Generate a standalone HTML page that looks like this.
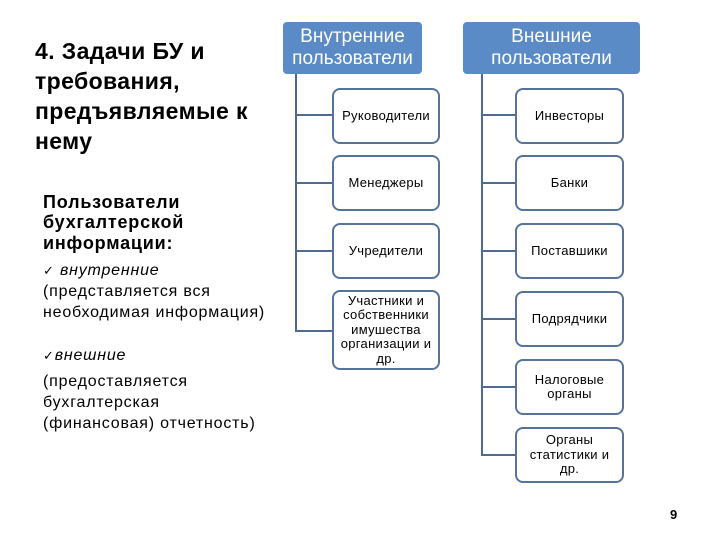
<!DOCTYPE html>
<html><head><meta charset="utf-8"><style>
body{margin:0;width:720px;height:540px;background:#fff;position:relative;overflow:hidden;font-family:"Liberation Sans",sans-serif;color:#000}
.t{position:absolute;white-space:nowrap;line-height:1}
.r{font-size:16px;letter-spacing:0.8px}
.bb{font-size:18px;font-weight:bold;letter-spacing:0.8px}
.h{position:absolute;background:#5b8bc7;color:#fff;border-radius:4px;text-align:center;font-size:19px;line-height:22px;display:flex;align-items:center;justify-content:center}
.b{position:absolute;border:2px solid #56739c;border-radius:8px;background:#fff;box-sizing:border-box;display:flex;align-items:center;justify-content:center;text-align:center;font-size:13px;line-height:14.5px;letter-spacing:0.3px}
.l{position:absolute;background:#4f6b93}
</style></head><body>
<div class="t" style="left:35px;top:40px;font-size:23px;font-weight:bold;letter-spacing:0.4px">4. Задачи БУ и</div>
<div class="t" style="left:35px;top:70px;font-size:23px;font-weight:bold;letter-spacing:0.4px">требования,</div>
<div class="t" style="left:35px;top:100px;font-size:23px;font-weight:bold;letter-spacing:0.4px">предъявляемые к</div>
<div class="t" style="left:35px;top:130px;font-size:23px;font-weight:bold;letter-spacing:0.4px">нему</div>
<div class="t bb" style="left:43px;top:193px">Пользователи</div>
<div class="t bb" style="left:43px;top:213px">бухгалтерской</div>
<div class="t bb" style="left:43px;top:234px">информации:</div>
<div class="t r" style="left:43px;top:263px"><span style="font-size:13px">✓</span> <i>внутренние</i></div>
<div class="t r" style="left:43px;top:284px">(представляется вся</div>
<div class="t r" style="left:43px;top:305px">необходимая информация)</div>
<div class="t r" style="left:43px;top:348px"><span style="font-size:13px">✓</span><i>внешние</i></div>
<div class="t r" style="left:43px;top:374px">(предоставляется</div>
<div class="t r" style="left:43px;top:395px">бухгалтерская</div>
<div class="t r" style="left:43px;top:416px">(финансовая) отчетность)</div>

<div class="h" style="left:283px;top:22px;width:139px;height:52px">Внутренние<br>пользователи</div>
<div class="h" style="left:463px;top:22px;width:177px;height:52px">Внешние<br>пользователи</div>

<div class="l" style="left:295px;top:74px;width:2px;height:258px"></div>
<div class="l" style="left:295px;top:114px;width:38px;height:2px"></div>
<div class="l" style="left:295px;top:182px;width:38px;height:2px"></div>
<div class="l" style="left:295px;top:250px;width:38px;height:2px"></div>
<div class="l" style="left:295px;top:330px;width:38px;height:2px"></div>
<div class="b" style="left:332px;top:88px;width:108px;height:56px">Руководители</div>
<div class="b" style="left:332px;top:155px;width:108px;height:56px">Менеджеры</div>
<div class="b" style="left:332px;top:223px;width:108px;height:56px">Учредители</div>
<div class="b" style="left:332px;top:290px;width:108px;height:80px">Участники и<br>собственники<br>имушества<br>организации и<br>др.</div>

<div class="l" style="left:481px;top:74px;width:2px;height:382px"></div>
<div class="l" style="left:481px;top:114px;width:35px;height:2px"></div>
<div class="l" style="left:481px;top:182px;width:35px;height:2px"></div>
<div class="l" style="left:481px;top:250px;width:35px;height:2px"></div>
<div class="l" style="left:481px;top:318px;width:35px;height:2px"></div>
<div class="l" style="left:481px;top:386px;width:35px;height:2px"></div>
<div class="l" style="left:481px;top:454px;width:35px;height:2px"></div>
<div class="b" style="left:515px;top:88px;width:109px;height:56px">Инвесторы</div>
<div class="b" style="left:515px;top:155px;width:109px;height:56px">Банки</div>
<div class="b" style="left:515px;top:223px;width:109px;height:56px">Поставшики</div>
<div class="b" style="left:515px;top:291px;width:109px;height:56px">Подрядчики</div>
<div class="b" style="left:515px;top:359px;width:109px;height:56px">Налоговые<br>органы</div>
<div class="b" style="left:515px;top:427px;width:109px;height:56px">Органы<br>статистики и<br>др.</div>

<div class="t" style="left:670px;top:508px;font-size:13px;font-weight:bold">9</div>
</body></html>
